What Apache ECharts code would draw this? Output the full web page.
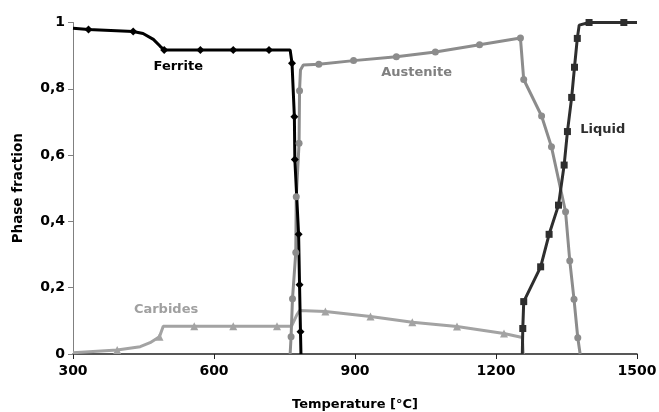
<!DOCTYPE html>
<html><head><meta charset="utf-8">
<script src="https://cdn.jsdelivr.net/npm/echarts@6/dist/echarts.min.js"></script>
<style>html,body{margin:0;padding:0;background:#fff}#c{width:659px;height:412px}</style>
</head><body><div id="c"></div>
<script>
// Ferrite (black, diamonds)
const ferriteT = [300, 333, 428, 449, 471, 485, 494, 571, 641, 717, 762, 766, 771, 772, 780, 782, 784, 785];
const ferriteY = [0.983, 0.979, 0.973, 0.967, 0.949, 0.929, 0.917, 0.917, 0.917, 0.917, 0.917, 0.877, 0.716, 0.587, 0.361, 0.209, 0.067, 0];
const ferriteMark = [0,1,1,0,0,0,1,1,1,1,0,1,1,1,1,1,1,0];
// Austenite (grey, circles)
const austT = [762, 764, 767, 774, 775, 781, 782, 784, 790, 823, 897, 988, 1071, 1165, 1252, 1259, 1297, 1318, 1348, 1357, 1366, 1374, 1379];
const austY = [0, 0.052, 0.167, 0.306, 0.474, 0.636, 0.794, 0.857, 0.872, 0.874, 0.885, 0.897, 0.911, 0.933, 0.953, 0.828, 0.718, 0.625, 0.429, 0.281, 0.165, 0.049, 0];
const austMark = [0,1,1,1,1,1,1,0,0,1,1,1,1,1,1,1,1,1,1,1,1,1,0];
// Carbides (light grey, triangles)
const carbT = [300, 394, 443, 464, 484, 492, 558, 641, 734, 765, 777, 782, 837, 933, 1022, 1117, 1217, 1256, 1258];
const carbY = [0.004, 0.012, 0.022, 0.034, 0.052, 0.084, 0.084, 0.084, 0.084, 0.084, 0.12, 0.131, 0.128, 0.113, 0.096, 0.083, 0.062, 0.05, 0];
const carbMark = [0,1,0,0,1,0,1,1,1,0,0,0,1,1,1,1,1,0,0];
// Liquid (dark grey, squares)
const liqT = [1256, 1257, 1259, 1295, 1313, 1333, 1345, 1352, 1361, 1367, 1373, 1377, 1398, 1472, 1500];
const liqY = [0, 0.077, 0.158, 0.263, 0.361, 0.449, 0.570, 0.671, 0.774, 0.865, 0.952, 0.992, 1, 1, 1];
const liqMark = [0,1,1,1,1,1,1,1,1,1,1,0,1,1,0];
// Axis ticks
const xTicks = [300, 600, 900, 1200, 1500];
const yTicks = [0, 0.2, 0.4, 0.6, 0.8, 1];
// Curve labels: [text, T, fraction]
const labels = {
  Ferrite: ['Ferrite', 524, 0.866],
  Austenite: ['Austenite', 1031, 0.848],
  Carbides: ['Carbides', 498, 0.133],
  Liquid: ['Liquid', 1427, 0.676]
};

const FONT = 'DejaVu Sans';
function build(T, Y, M) {
  return T.map((t, i) => M[i] ? [t, Y[i]] : { value: [t, Y[i]], symbol: 'none' });
}
function mk(name, T, Y, M, color, symbol, size, labelColor) {
  const L = labels[name];
  return {
    name, type: 'line', data: build(T, Y, M),
    symbol, symbolSize: size, showAllSymbol: true,
    lineStyle: { color, width: 3 }, itemStyle: { color },
    emphasis: { disabled: true },
    markPoint: {
      symbol: 'circle', symbolSize: 0, silent: true,
      label: { show: true, position: 'inside', formatter: L[0], color: labelColor,
        fontFamily: FONT, fontWeight: 'bold', fontSize: 13 },
      data: [{ coord: [L[1], L[2]] }]
    }
  };
}
const chart = echarts.init(document.getElementById('c'), null, { renderer: 'canvas' });
chart.setOption({
  animation: false,
  backgroundColor: '#fff',
  grid: { left: 73, right: 22, top: 22.5, bottom: 58, containLabel: false, outerBoundsMode: 'none' },
  xAxis: {
    type: 'value', min: xTicks[0], max: xTicks[xTicks.length - 1], interval: 300,
    name: 'Temperature [°C]', nameLocation: 'middle', nameGap: 44,
    nameTextStyle: { fontFamily: FONT, fontWeight: 'bold', fontSize: 13, color: '#000' },
    axisLine: { lineStyle: { color: '#222', width: 1.5 } },
    axisTick: { length: 5, lineStyle: { color: '#222' } },
    axisLabel: { margin: 10, fontFamily: FONT, fontWeight: 'bold', fontSize: 14, color: '#000',
      formatter: v => String(v) },
    splitLine: { show: false }
  },
  yAxis: {
    type: 'value', min: yTicks[0], max: yTicks[yTicks.length - 1], interval: 0.2,
    name: 'Phase fraction', nameLocation: 'middle', nameGap: 48,
    nameTextStyle: { fontFamily: FONT, fontWeight: 'bold', fontSize: 13.5, color: '#000' },
    axisLine: { show: true, lineStyle: { color: '#808080', width: 1 } },
    axisTick: { show: true, length: 5, lineStyle: { color: '#808080' } },
    axisLabel: { margin: 8, fontFamily: FONT, fontWeight: 'bold', fontSize: 14, color: '#000',
      formatter: v => String(Math.round(v * 10) / 10).replace('.', ',') },
    splitLine: { show: false }
  },
  series: [
    mk('Carbides', carbT, carbY, carbMark, '#a3a3a3', 'triangle', 8, '#a0a0a0'),
    mk('Austenite', austT, austY, austMark, '#8c8c8c', 'circle', 7, '#808080'),
    mk('Ferrite', ferriteT, ferriteY, ferriteMark, '#000000', 'diamond', 8, '#000000'),
    mk('Liquid', liqT, liqY, liqMark, '#2e2e2e', 'rect', 7, '#2e2e2e')
  ]
});
</script></body></html>
